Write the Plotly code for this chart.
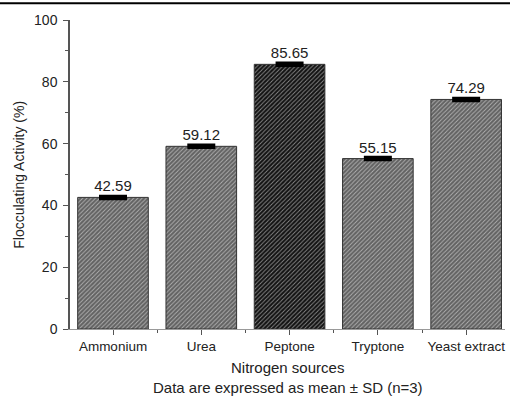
import plotly.graph_objects as go

categories = ["Ammonium", "Urea", "Peptone", "Tryptone", "Yeast extract"]
activity = [42.59, 59.12, 85.65, 55.15, 74.29]
sd = [0.4, 0.4, 0.4, 0.4, 0.4]
labels = ["42.59", "59.12", "85.65", "55.15", "74.29"]
bar_colors = ["#626262", "#626262", "#121212", "#626262", "#626262"]
hatch_colors = ["#545454", "#545454", "#222222", "#545454", "#545454"]

FONT = "Liberation Sans, Arial, sans-serif"

fig = go.Figure()
fig.add_trace(go.Bar(
    x=list(range(len(categories))),
    y=activity,
    width=0.8,
    marker=dict(
        color=bar_colors,
        line=dict(color="#333333", width=1),
        pattern=dict(shape="/", fgcolor=hatch_colors, bgcolor=bar_colors, size=3,
                     solidity=0.3, fillmode="overlay"),
    ),
    error_y=dict(type="data", array=sd, visible=True, color="black", thickness=3, width=14),
    text=labels,
    textposition="outside",
    textfont=dict(family=FONT, size=15, color="#222222"),
    cliponaxis=False,
))

fig.update_layout(
    width=510, height=398,
    margin=dict(l=70, r=5, t=20, b=69, autoexpand=False),
    paper_bgcolor="white", plot_bgcolor="white",
    showlegend=False,
    font=dict(family=FONT, color="#222222"),
    xaxis=dict(
        range=[-0.487, 4.44],
        automargin=False,
        tickmode="array",
        tickvals=list(range(len(categories))),
        ticktext=categories,
        tickfont=dict(size=13.5),
        ticks="outside", ticklen=5, tickcolor="#555555",
        minor=dict(tickvals=[0.5, 1.5, 2.5, 3.5], ticks="outside", ticklen=3, tickcolor="#555555"),
        showline=True, linecolor="#999999", linewidth=1,
        showgrid=False, zeroline=False,
    ),
    yaxis=dict(
        range=[0, 100],
        automargin=False,
        tickvals=[0, 20, 40, 60, 80, 100],
        tickfont=dict(size=14),
        ticks="outside", ticklen=5, tickcolor="#555555",
        ticklabelstandoff=3,
        minor=dict(tickvals=[10, 30, 50, 70, 90], ticks="outside", ticklen=3, tickcolor="#555555"),
        showline=True, linecolor="#555555", linewidth=1.5,
        showgrid=False, zeroline=False,
    ),
    annotations=[
        dict(text="Nitrogen sources", xref="paper", yref="paper", x=0.5, y=-0.125,
             xanchor="center", yanchor="middle", showarrow=False, font=dict(size=15)),
        dict(text="Data are expressed as mean ± SD (n=3)", xref="paper", yref="paper",
             x=0.5, y=-0.19, xanchor="center", yanchor="middle", showarrow=False,
             font=dict(size=15)),
        dict(text="Flocculating Activity (%)", xref="paper", yref="paper", x=-0.119, y=0.5,
             xanchor="center", yanchor="middle", textangle=-90, showarrow=False,
             font=dict(size=14)),
    ],
    shapes=[dict(type="line", xref="paper", yref="paper", x0=-0.2, x1=1.1,
                 y0=1.054, y1=1.054, line=dict(color="black", width=2))],
)

fig.write_html("out.html", config={"displayModeBar": False},
               post_script="document.body.style.margin='0px';")
